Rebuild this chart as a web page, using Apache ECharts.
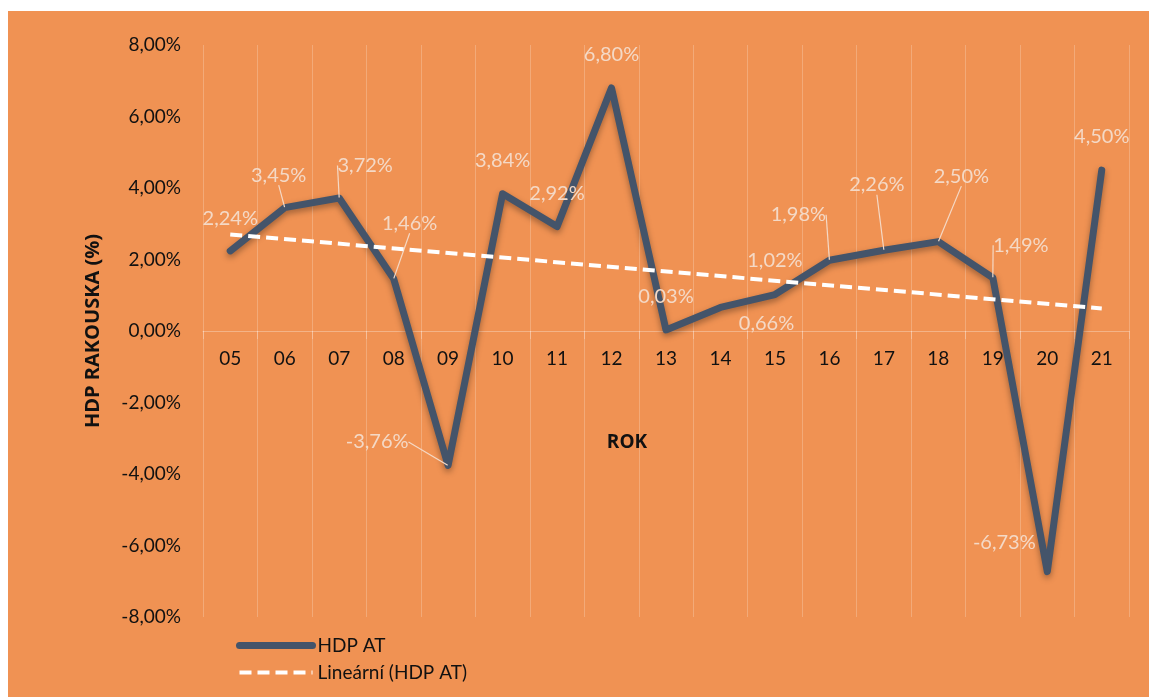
<!DOCTYPE html>
<html>
<head>
<meta charset="utf-8">
<title>HDP Rakouska</title>
<script src="https://cdn.jsdelivr.net/npm/echarts@6/dist/echarts.min.js"></script>
<style>
  html, body { margin: 0; padding: 0; background: #fff; }
  #chart {
    position: absolute;
    left: 8px;
    top: 11px;
    width: 1141px;
    height: 686px;
    background: #F09253;
  }
</style>
</head>
<body>
<div id="chart"></div>
<script>
// roky (osa X)
const years = ['05', '06', '07', '08', '09', '10', '11', '12', '13', '14', '15', '16', '17', '18', '19', '20', '21']
// HDP AT, meziroční změna v %
const hdpAt = [2.24, 3.45, 3.72, 1.46, -3.76, 3.84, 2.92, 6.80, 0.03, 0.66, 1.02, 1.98, 2.26, 2.50, 1.49, -6.73, 4.50]
// lineární trend - odečtené krajní hodnoty
const trendStart = 2.70
const trendEnd = 0.63

const yMin = -8
const yMax = 8
const yStep = 2

// posun popisků (dx, dy) a zda mají vodicí čáru
const labelShift = [
  [0, -17], [-6, -17], [26, -17], [16, -40], [-71, -8], [0, -18], [0, -18], [0, -18],
  [0, -18], [46, 32], [0, -18], [-31, -30], [-7, -50], [23, -50], [28, -17], [-43, -14], [0, -18]
]
const leader = [false, true, true, true, true, false, false, false,
  false, false, false, true, true, true, true, false, false]

const fmt = v => v.toFixed(2).replace('.', ',') + '%'

const trendData = years.map((y, i) => i === 0 ? trendStart : (i === years.length - 1 ? trendEnd : null))

const chart = echarts.init(document.getElementById('chart'))
const font = 'Lato, "Open Sans", sans-serif'

// plocha grafu v rámci 686 px vysokého kontejneru
const plotTop = 34
const plotBottom = 80
const plotH = 686 - plotTop - plotBottom

chart.setOption({
  animation: false,
  textStyle: { fontFamily: font },
  grid: {
    left: 195,
    right: 20,
    top: plotTop,
    bottom: plotBottom,
    containLabel: false,
    outerBoundsMode: 'none'
  },
  legend: {
    orient: 'vertical',
    left: 223,
    top: 620,
    itemWidth: 73,
    itemHeight: 10,
    itemGap: 8,
    lineStyle: { width: 'inherit' },
    textStyle: { fontSize: 19, color: '#111', fontFamily: font },
    data: ['HDP AT', 'Lineární (HDP AT)']
  },
  xAxis: {
    type: 'category',
    data: years,
    boundaryGap: true,
    position: 'bottom',
    offset: -plotH / 2,
    name: 'ROK',
    nameLocation: 'middle',
    nameGap: 102,
    nameTextStyle: {
      fontSize: 19,
      fontWeight: 'bold',
      color: '#111',
      fontFamily: '"Open Sans", sans-serif',
      padding: [0, 78, 0, 0]
    },
    axisLine: { onZero: false, lineStyle: { color: 'rgba(255,255,255,0.3)', width: 1 } },
    axisTick: { show: true, length: 8, lineStyle: { color: 'rgba(255,255,255,0.25)' } },
    axisLabel: { fontSize: 19, color: '#111', margin: 18 },
    splitLine: { show: true, lineStyle: { color: 'rgba(255,255,255,0.22)', width: 1 } }
  },
  yAxis: {
    type: 'value',
    min: yMin,
    max: yMax,
    interval: yStep,
    name: 'HDP RAKOUSKA (%)',
    nameLocation: 'middle',
    nameGap: 100,
    nameRotate: 90,
    nameTextStyle: { fontSize: 20, fontWeight: 'bold', color: '#111', fontFamily: '"Open Sans", sans-serif' },
    axisLine: { show: false },
    axisTick: { show: false },
    splitLine: { show: false },
    axisLabel: {
      fontSize: 19,
      color: '#111',
      margin: 22,
      formatter: v => fmt(v)
    }
  },
  series: [
    {
      name: 'HDP AT',
      type: 'line',
      data: hdpAt.map((v, i) => ({
        value: v,
        labelLine: { show: leader[i] }
      })),
      symbol: 'circle',
      symbolSize: 1,
      showSymbol: true,
      z: 3,
      itemStyle: { color: 'transparent' },
      lineStyle: {
        color: '#44546A',
        width: 7,
        join: 'round',
        cap: 'round',
        shadowColor: 'rgba(0,0,0,0.35)',
        shadowBlur: 6,
        shadowOffsetY: 3
      },
      label: {
        show: true,
        position: 'top',
        distance: 5,
        fontSize: 20,
        color: '#F4D9C6',
        fontFamily: font,
        formatter: p => fmt(p.value)
      },
      labelLine: {
        show: true,
        lineStyle: { color: '#F4D9C6', width: 1.2 }
      },
      labelLayout: p => ({
        dx: labelShift[p.dataIndex][0],
        dy: labelShift[p.dataIndex][1]
      })
    },
    {
      name: 'Lineární (HDP AT)',
      type: 'line',
      data: trendData,
      connectNulls: true,
      symbol: 'none',
      z: 4,
      itemStyle: { color: 'transparent' },
      lineStyle: {
        color: '#FFFFFF',
        width: 4,
        type: [12, 6]
      },
      silent: true
    }
  ]
})
</script>
</body>
</html>
